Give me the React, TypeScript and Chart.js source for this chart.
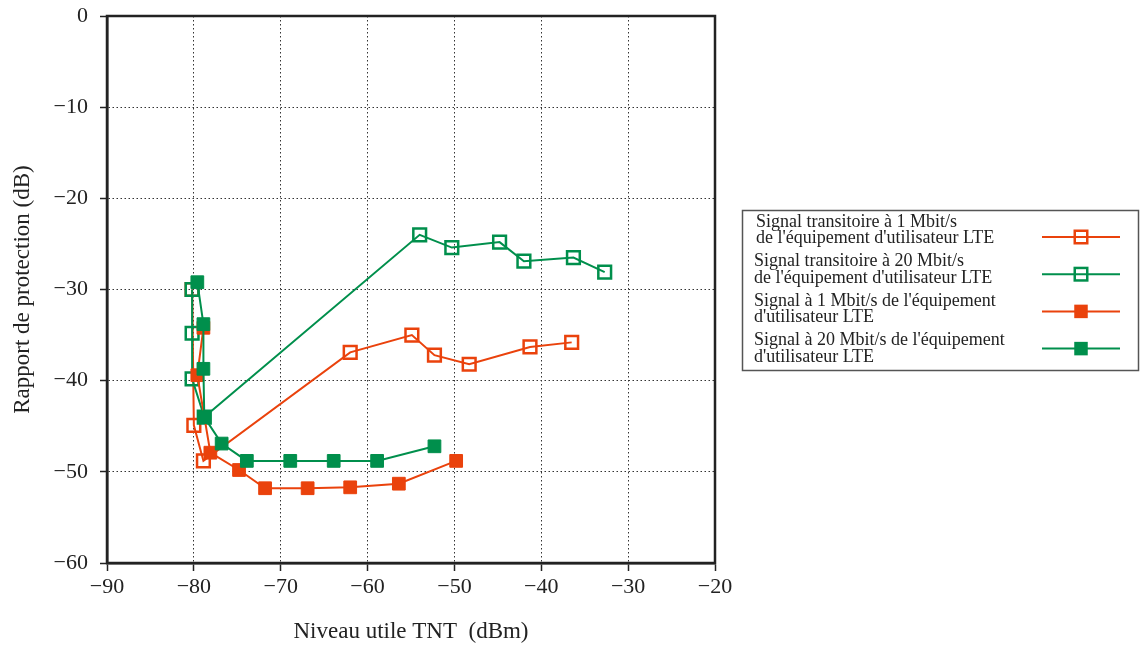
import React, { useEffect, useRef } from "react";
import { Chart, registerables } from "chart.js";

Chart.register(...registerables);

// ---- Data ----
const xTickValues = [-90, -80, -70, -60, -50, -40, -30, -20];
const yTickValues = [0, -10, -20, -30, -40, -50, -60];

const transit1X = [-80.2, -80.0, -78.9, -62.0, -54.9, -52.3, -48.3, -41.3, -36.5];
const transit1Y = [-30.0, -44.9, -48.8, -36.9, -35.0, -37.2, -38.2, -36.3, -35.8];

const transit20X = [-80.2, -80.2, -80.2, -78.8, -54.0, -50.3, -44.8, -42.0, -36.3, -32.7];
const transit20Y = [-30.0, -34.8, -39.8, -44.0, -24.0, -25.4, -24.8, -26.9, -26.5, -28.1];

const signal1X = [-78.9, -79.6, -78.1, -74.8, -71.8, -66.9, -62.0, -56.4, -49.8];
const signal1Y = [-34.2, -39.4, -47.9, -49.8, -51.8, -51.8, -51.7, -51.3, -48.8];

const signal20X = [-79.6, -78.9, -78.9, -78.8, -76.8, -73.9, -68.9, -63.9, -58.9, -52.3];
const signal20Y = [-29.2, -33.8, -38.7, -44.0, -46.9, -48.8, -48.8, -48.8, -48.8, -47.2];

const legendLabels: string[][] = [
  ["Signal transitoire à 1 Mbit/s", "de l'équipement d'utilisateur LTE"],
  ["Signal transitoire à 20 Mbit/s", "de l'équipement d'utilisateur LTE"],
  ["Signal à 1 Mbit/s de l'équipement", "d'utilisateur LTE"],
  ["Signal à 20 Mbit/s de l'équipement", "d'utilisateur LTE"],
];

const xTitle = "Niveau utile TNT  (dBm)";
const yTitle = "Rapport de protection (dB)";

// ---- Styles ----
const ORANGE = "#EA420C";
const GREEN = "#008F4C";
const SERIF = "'Liberation Serif', 'DejaVu Serif', serif";

const pts = (xs: number[], ys: number[]) => xs.map((x, i) => ({ x, y: ys[i] }));
const fmt = (v: number) => (v < 0 ? "\u2212" + Math.abs(v) : String(v));

const frameLegendPlugin = {
  id: "frameLegend",
  afterDraw(chart: any) {
    const { ctx, chartArea } = chart;
    ctx.save();
    // frame
    ctx.strokeStyle = "#222";
    ctx.lineWidth = 2.5;
    ctx.setLineDash([]);
    ctx.strokeRect(chartArea.left, chartArea.top, chartArea.right - chartArea.left, chartArea.bottom - chartArea.top);

    // legend box
    ctx.strokeStyle = "#555";
    ctx.lineWidth = 1.5;
    ctx.strokeRect(742.5, 210.5, 396, 160);

    ctx.font = `18px ${SERIF}`;
    ctx.textBaseline = "middle";
    ctx.textAlign = "left";
    chart.data.datasets.forEach((ds: any, i: number) => {
      const lines = legendLabels[i];
      const ty = 222 + i * 39.5;
      ctx.fillStyle = "#222";
      lines.forEach((t, j) => ctx.fillText(t, i === 0 ? 756 : 754, ty + j * 16.5));
      const sy = 237 + i * 37.2;
      ctx.strokeStyle = ds.borderColor;
      ctx.lineWidth = 2;
      ctx.beginPath();
      ctx.moveTo(1042, sy);
      ctx.lineTo(1120, sy);
      ctx.stroke();
      const s = 12.5;
      if (ds.pointBackgroundColor === "transparent") {
        ctx.lineWidth = ds.pointBorderWidth;
        ctx.strokeRect(1081 - s / 2, sy - s / 2, s, s);
      } else {
        ctx.fillStyle = ds.borderColor;
        ctx.fillRect(1081 - s / 2 - 0.5, sy - s / 2 - 0.5, s + 1, s + 1);
      }
    });
    ctx.restore();
  },
};

export default function App() {
  const canvasRef = useRef<HTMLCanvasElement | null>(null);

  useEffect(() => {
    document.body.style.margin = "0";
    const canvas = canvasRef.current;
    if (!canvas) return;

    const openDs = (label: string, color: string, data: any[], order: number) => ({
      label,
      data,
      borderColor: color,
      backgroundColor: color,
      borderWidth: 2,
      pointStyle: "rect",
      pointRadius: 9,
      pointBorderWidth: 2.5,
      pointBorderColor: color,
      pointBackgroundColor: "transparent",
      showLine: true,
      tension: 0,
      order,
    });
    const filledDs = (label: string, color: string, data: any[], order: number) => ({
      label,
      data,
      borderColor: color,
      backgroundColor: color,
      borderWidth: 2,
      pointStyle: "rect",
      pointRadius: 9,
      pointBorderWidth: 1,
      pointBorderColor: color,
      pointBackgroundColor: color,
      showLine: true,
      tension: 0,
      order,
    });

    const tickFont = { family: SERIF, size: 22 };
    const titleFont = { family: SERIF, size: 23 };

    const chart = new Chart(canvas, {
      type: "scatter",
      data: {
        datasets: [
          openDs(legendLabels[0].join(" "), ORANGE, pts(transit1X, transit1Y), 4),
          openDs(legendLabels[1].join(" "), GREEN, pts(transit20X, transit20Y), 3),
          filledDs(legendLabels[2].join(" "), ORANGE, pts(signal1X, signal1Y), 2),
          filledDs(legendLabels[3].join(" "), GREEN, pts(signal20X, signal20Y), 1),
        ] as any,
      },
      options: {
        animation: false,
        responsive: false,
        devicePixelRatio: 1,
        layout: { padding: { top: 16, right: 425, left: 0, bottom: 0 } },
        plugins: { legend: { display: false }, tooltip: { enabled: false } },
        scales: {
          x: {
            type: "linear",
            min: -90,
            max: -20,
            afterFit: (s: any) => { s.height = 83; s.paddingLeft = 0; s.paddingRight = 0; },
            afterBuildTicks: (s: any) => { s.ticks = xTickValues.map((v) => ({ value: v })); },
            ticks: { callback: (v: any) => fmt(Number(v)), font: tickFont, color: "#222", padding: 3, maxRotation: 0 },
            grid: { color: "#333", lineWidth: 1, drawTicks: true, tickLength: 8, tickColor: "#222", tickWidth: 1.5, tickBorderDash: [] },
            border: { display: true, color: "#222", width: 2.5, dash: [1.5, 2.5] },
            title: { display: true, text: xTitle, font: titleFont, color: "#222", padding: { top: 0, bottom: 0 } },
          },
          y: {
            type: "linear",
            min: -60,
            max: 0,
            afterFit: (s: any) => { s.width = 107; s.paddingTop = 0; s.paddingBottom = 0; },
            afterBuildTicks: (s: any) => { s.ticks = yTickValues.slice().reverse().map((v) => ({ value: v })); },
            ticks: { callback: (v: any) => fmt(Number(v)), font: tickFont, color: "#222", padding: 12 },
            grid: { color: "#333", lineWidth: 1, drawTicks: true, tickLength: 7, tickColor: "#222", tickWidth: 1.5, tickBorderDash: [] },
            border: { display: true, color: "#222", width: 2.5, dash: [1.5, 2.5] },
            title: { display: true, text: yTitle, font: titleFont, color: "#222", padding: { top: 9, bottom: 0 } },
          },
        },
      } as any,
      plugins: [frameLegendPlugin],
    });

    return () => chart.destroy();
  }, []);

  return (
    <div style={{ width: 1140, height: 646, overflow: "hidden", background: "#fff" }}>
      <canvas ref={canvasRef} width={1140} height={646} style={{ display: "block", width: 1140, height: 646 }} />
    </div>
  );
}
